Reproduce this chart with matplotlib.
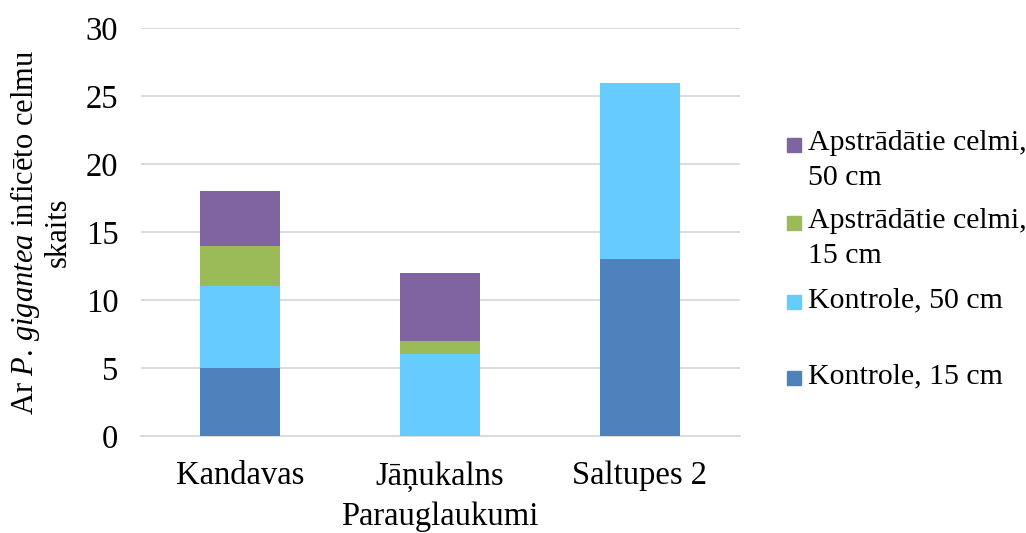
import matplotlib.pyplot as plt
from matplotlib.patches import Rectangle
import numpy as np

plt.rcParams['font.family'] = ['Liberation Serif', 'DejaVu Serif']
plt.rcParams['mathtext.fontset'] = 'custom'
plt.rcParams['mathtext.rm'] = 'Liberation Serif'
plt.rcParams['mathtext.it'] = 'Liberation Serif:italic'

# Datos
vietas = ['Kandavas', 'Jāņukalns', 'Saltupes 2']
kontrole_15 = [5, 0, 13]
kontrole_50 = [6, 6, 13]
apstr_15 = [3, 1, 0]
apstr_50 = [4, 5, 0]

serijas = [
    ('Kontrole, 15 cm', kontrole_15, '#4F81BD'),
    ('Kontrole, 50 cm', kontrole_50, '#66CCFF'),
    ('Apstrādātie celmi,\n15 cm', apstr_15, '#9BBB59'),
    ('Apstrādātie celmi,\n50 cm', apstr_50, '#8064A2'),
]

fig = plt.figure(figsize=(10.26, 5.33), dpi=100)
ax = fig.add_axes([0.137, 0.182, 0.584, 0.765])

x = np.arange(len(vietas))
bottom = np.zeros(len(vietas))
for nosaukums, vertibas, krasa in serijas:
    ax.bar(x, vertibas, 0.4, bottom=bottom, color=krasa, zorder=3)
    bottom += np.array(vertibas)

ax.set_xlim(-0.5, 2.5)
ax.set_ylim(0, 30)
ax.set_yticks(range(0, 31, 5))
ax.set_xticks(x)
ax.set_xticklabels(vietas)
ax.tick_params(axis='both', length=0, labelsize=23.5, colors='black')
ax.tick_params(axis='x', pad=18)
ax.tick_params(axis='y', pad=16)
ax.grid(axis='y', color='#D9D9D9', linewidth=1.3, zorder=0)
for s in ['top', 'right', 'left']:
    ax.spines[s].set_visible(False)
ax.spines['bottom'].set_color('#D9D9D9')
ax.spines['bottom'].set_linewidth(1.3)

ax.set_ylabel('Ar $\\mathit{P.\\,gigantea}$ inficēto celmu\nskaits', fontsize=22,
              linespacing=1.12, labelpad=9)
ax.set_xlabel('Parauglaukumi', fontsize=23.5, labelpad=7)

# Leģenda (manuāli, kā Excel)
leg_y = [378, 302, 223, 145]
for (nosaukums, vertibas, krasa), yy in zip(serijas, leg_y):
    yf = 1 - yy / 533
    fig.add_artist(Rectangle((787 / 1026, yf - 7 / 533), 14 / 1026, 14 / 533,
                             transform=fig.transFigure, color=krasa))
    fig.text(808 / 1026, yf + 15 / 533, nosaukums, fontsize=21.5, va='top',
             ha='left', linespacing=1.45)

fig.savefig('out.png', dpi=100)
